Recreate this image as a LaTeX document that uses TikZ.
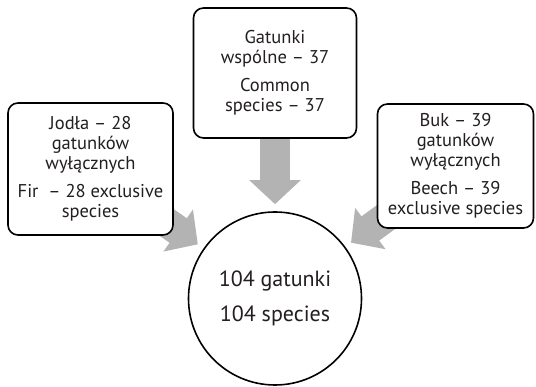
\documentclass[tikz,border=0pt]{standalone}
\usepackage{fontspec}
\setmainfont{PT Sans}
\usepackage{xcolor}
\usetikzlibrary{arrows.meta}

\definecolor{arrowgray}{HTML}{B3B3B3}
\definecolor{textdark}{HTML}{231F20}

\tikzset{
    infobox/.style={rectangle, draw=black, line width=1.6pt, rounded corners=10pt, fill=white, align=center, text=textdark, inner sep=0pt, font=\fontsize{18.5}{20}\selectfont},
    totalnode/.style={circle, draw=black, line width=1.6pt, fill=white, align=center, text=textdark, inner sep=0pt, minimum size=173pt, font=\fontsize{22}{25}\selectfont},
    bigarrow/.style={draw=arrowgray, line width=30pt, -{Triangle[width=50pt, length=24pt, color=arrowgray]}, shorten >=7pt}
}

\begin{document}
\begin{tikzpicture}[x=1pt, y=-1pt]
    \useasboundingbox (0,0) rectangle (536,387);

    \node [totalnode] (total) at (275, 298.5) {104 gatunki \\[10pt] 104 species};
    \coordinate (firc) at (90.5, 169);
    \coordinate (commonc) at (275, 73);
    \coordinate (beechc) at (455.5, 166);

    \draw [bigarrow] (firc) -- (total);
    \draw [bigarrow] (commonc) -- (total);
    \draw [bigarrow] (beechc) -- (total);

    \node [infobox, minimum width=165pt, minimum height=132pt] (fir) at (firc) {Jodła -- 28 \\ gatunków \\ wyłącznych \\[8pt] Fir \ -- 28 exclusive \\ species};
    \node [infobox, minimum width=163pt, minimum height=130pt] (common) at (commonc) {Gatunki \\ wspólne -- 37 \\[8pt] Common \\ species -- 37};
    \node [infobox, minimum width=156pt, minimum height=124pt] (beech) at (beechc) {Buk -- 39 \\ gatunków \\ wyłącznych \\[8pt] Beech -- 39 \\ exclusive species};
\end{tikzpicture}
\end{document}
